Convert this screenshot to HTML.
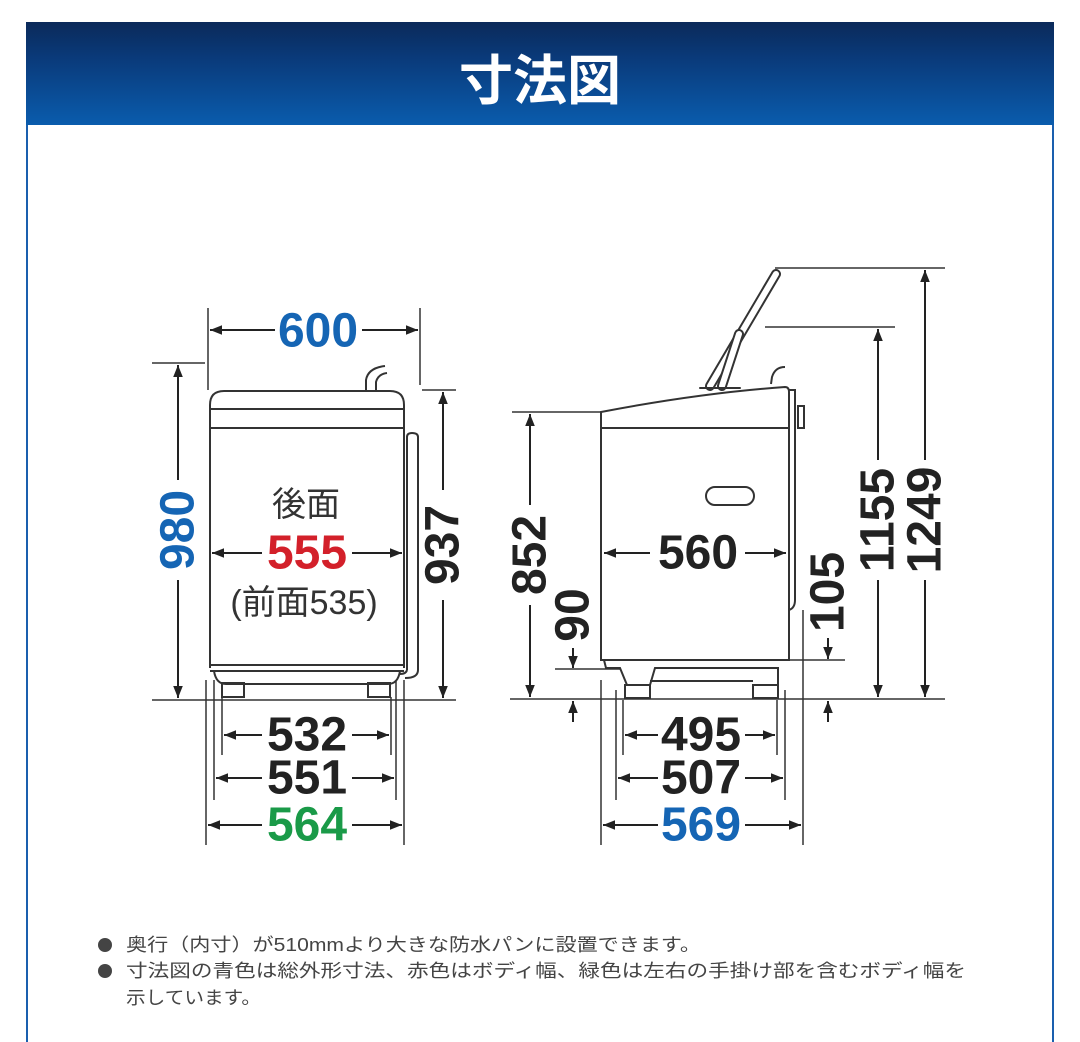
<!DOCTYPE html>
<html><head><meta charset="utf-8"><style>
html,body{margin:0;padding:0;background:#fff;width:1080px;height:1042px;overflow:hidden}
.n{font-family:"Liberation Sans",sans-serif;font-weight:bold;font-size:48px;text-anchor:middle;dominant-baseline:central}
.j{font-family:"Liberation Sans","Noto Sans CJK JP",sans-serif;font-size:34px;fill:#333;text-anchor:middle;dominant-baseline:central}
.t{font-family:"Liberation Sans","Noto Sans CJK JP",sans-serif;font-size:18px;fill:#444}
</style></head><body>
<svg width="1080" height="1042" viewBox="0 0 1080 1042" xmlns="http://www.w3.org/2000/svg">
<defs>
<linearGradient id="g" x1="0" y1="0" x2="0" y2="1"><stop offset="0" stop-color="#0b2a5a"/><stop offset="0.35" stop-color="#0a3a7a"/><stop offset="1" stop-color="#0a5cad"/></linearGradient>
<marker id="a" viewBox="0 0 10 10" refX="10" refY="5" markerWidth="6" markerHeight="6" orient="auto-start-reverse"><path d="M0,1 L10,5 L0,9z" fill="#222"/></marker>
</defs>
<rect x="26" y="22" width="1028" height="103" fill="url(#g)"/>
<line x1="27" y1="125" x2="27" y2="1042" stroke="#1a5fae" stroke-width="2"/>
<line x1="1053" y1="125" x2="1053" y2="1042" stroke="#1a5fae" stroke-width="2"/>
<text x="540" y="76" fill="#fff" font-family="'Noto Sans CJK JP',sans-serif" font-size="54" font-weight="bold" text-anchor="middle" dominant-baseline="central">寸法図</text>

<g fill="none" stroke="#333" stroke-width="2">
<path d="M210,668 L210,405 Q210,391 224,391 L390,391 Q404,391 404,405 L404,668"/>
<line x1="210" y1="409" x2="404" y2="409"/><line x1="210" y1="428" x2="404" y2="428"/>
<line x1="210" y1="665" x2="404" y2="665"/><line x1="210" y1="671" x2="404" y2="671"/>
<path d="M214,671 Q216,684 226,684 L388,684 Q398,684 400,671"/>
<rect x="222" y="683" width="22" height="14"/><rect x="368" y="683" width="22" height="14"/>
<path d="M366,390 L366,380 Q368,368 385,366 M376,390 L376,382 Q378,374 387,373"/>
<path d="M407,670 L407,437 Q407,433 412,433 Q418,433 418,437 L418,670 Q418,678 405,678 M407,670 Q406,674 400,674"/>
<path d="M601,660 L601,412 Q700,393 785,387 Q789,387 789,392 L789,660 Z"/>
<line x1="601" y1="428" x2="789" y2="428"/>
<path d="M789,390 L795,390 L795,600 Q795,608 789,610"/>
<rect x="798" y="406" width="6" height="22"/>
<rect x="706" y="487" width="48" height="18" rx="9"/>
<line x1="601" y1="660" x2="789" y2="660"/>
<path d="M604,660 L606,668 L620,668 L627,685 M650,685 L655,668 L778,668 L778,685"/>
<line x1="650" y1="681" x2="753" y2="681"/>
<rect x="625" y="685" width="25" height="13"/><rect x="753" y="685" width="25" height="13"/>
<path d="M771,384 L772,377 Q775,367 785,367"/>
</g>
<g fill="none" stroke-linecap="round">
<line x1="710" y1="386" x2="776" y2="274" stroke="#333" stroke-width="10"/>
<line x1="710" y1="386" x2="776" y2="274" stroke="#fff" stroke-width="6"/>
<line x1="722" y1="386" x2="739" y2="334" stroke="#333" stroke-width="10"/>
<line x1="722" y1="386" x2="739" y2="334" stroke="#fff" stroke-width="6"/>
<line x1="700" y1="388" x2="740" y2="388" stroke="#333" stroke-width="2"/>
</g>

<g stroke="#333" stroke-width="1.5" fill="none">
<line x1="208" y1="308" x2="208" y2="390"/><line x1="420" y1="308" x2="420" y2="385"/>
<line x1="152" y1="363" x2="205" y2="363"/><line x1="422" y1="390" x2="456" y2="390"/>
<line x1="152" y1="700" x2="456" y2="700"/>
<line x1="206" y1="680" x2="206" y2="845"/><line x1="214" y1="680" x2="214" y2="800"/><line x1="222" y1="697" x2="222" y2="755"/>
<line x1="391" y1="697" x2="391" y2="755"/><line x1="396" y1="680" x2="396" y2="800"/><line x1="404" y1="680" x2="404" y2="845"/>
<line x1="512" y1="412" x2="600" y2="412"/><line x1="555" y1="669" x2="620" y2="669"/>
<line x1="790" y1="660" x2="845" y2="660"/>
<line x1="765" y1="327" x2="895" y2="327"/><line x1="775" y1="268" x2="945" y2="268"/>
<line x1="510" y1="699" x2="945" y2="699"/>
<line x1="601" y1="680" x2="601" y2="845"/><line x1="616" y1="690" x2="616" y2="800"/><line x1="623" y1="700" x2="623" y2="755"/>
<line x1="777" y1="700" x2="777" y2="755"/><line x1="785" y1="690" x2="785" y2="800"/><line x1="803" y1="610" x2="803" y2="845"/>
</g>

<g stroke="#222" stroke-width="2" marker-start="url(#a)" marker-end="url(#a)">
<line x1="210" y1="330" x2="275" y2="330" marker-end="none"/><line x1="362" y1="330" x2="418" y2="330" marker-start="none"/>
<line x1="178" y1="365" x2="178" y2="480" marker-end="none"/><line x1="178" y1="580" x2="178" y2="698" marker-start="none"/>
<line x1="443" y1="392" x2="443" y2="490" marker-end="none"/><line x1="443" y1="600" x2="443" y2="698" marker-start="none"/>
<line x1="212" y1="553" x2="262" y2="553" marker-end="none"/><line x1="352" y1="553" x2="402" y2="553" marker-start="none"/>
<line x1="224" y1="735" x2="262" y2="735" marker-end="none"/><line x1="352" y1="735" x2="389" y2="735" marker-start="none"/>
<line x1="216" y1="778" x2="262" y2="778" marker-end="none"/><line x1="352" y1="778" x2="394" y2="778" marker-start="none"/>
<line x1="208" y1="825" x2="262" y2="825" marker-end="none"/><line x1="352" y1="825" x2="402" y2="825" marker-start="none"/>
<line x1="530" y1="414" x2="530" y2="505" marker-end="none"/><line x1="530" y1="605" x2="530" y2="697" marker-start="none"/>
<line x1="573" y1="648" x2="573" y2="668" marker-start="none"/><line x1="573" y1="722" x2="573" y2="701" marker-start="none"/>
<line x1="828" y1="638" x2="828" y2="659" marker-start="none"/><line x1="828" y1="722" x2="828" y2="701" marker-start="none"/>
<line x1="878" y1="329" x2="878" y2="460" marker-end="none"/><line x1="878" y1="580" x2="878" y2="697" marker-start="none"/>
<line x1="925" y1="270" x2="925" y2="460" marker-end="none"/><line x1="925" y1="580" x2="925" y2="697" marker-start="none"/>
<line x1="604" y1="553" x2="650" y2="553" marker-end="none"/><line x1="745" y1="553" x2="786" y2="553" marker-start="none"/>
<line x1="625" y1="735" x2="658" y2="735" marker-end="none"/><line x1="745" y1="735" x2="775" y2="735" marker-start="none"/>
<line x1="618" y1="778" x2="658" y2="778" marker-end="none"/><line x1="745" y1="778" x2="783" y2="778" marker-start="none"/>
<line x1="603" y1="825" x2="658" y2="825" marker-end="none"/><line x1="745" y1="825" x2="801" y2="825" marker-start="none"/>
</g>

<text class="n" x="318" y="331" fill="#1565b4">600</text>
<text class="n" x="178" y="530" fill="#1565b4" transform="rotate(-90 178 530)">980</text>
<text class="n" x="443" y="545" fill="#222" transform="rotate(-90 443 545)">937</text>
<text class="j" x="306" y="505">後面</text>
<text class="n" x="307" y="553" fill="#d3202a">555</text>
<text class="j" x="304" y="603">(前面535)</text>
<text class="n" x="307" y="735" fill="#222">532</text>
<text class="n" x="307" y="778" fill="#222">551</text>
<text class="n" x="307" y="825" fill="#1a9a48">564</text>
<text class="n" x="530" y="555" fill="#222" transform="rotate(-90 530 555)">852</text>
<text class="n" x="573" y="615" fill="#222" transform="rotate(-90 573 615)">90</text>
<text class="n" x="828" y="592" fill="#222" transform="rotate(-90 828 592)">105</text>
<text class="n" x="878" y="520" fill="#222" transform="rotate(-90 878 520)">1155</text>
<text class="n" x="925" y="520" fill="#222" transform="rotate(-90 925 520)">1249</text>
<text class="n" x="698" y="553" fill="#222">560</text>
<text class="n" x="701" y="735" fill="#222">495</text>
<text class="n" x="701" y="778" fill="#222">507</text>
<text class="n" x="701" y="825" fill="#1565b4">569</text>

<circle cx="105" cy="945" r="7" fill="#444"/>
<circle cx="105" cy="971" r="7" fill="#444"/>
<text class="t" x="126" y="951" textLength="575" lengthAdjust="spacingAndGlyphs">奥行（内寸）が510mmより大きな防水パンに設置できます。</text>
<text class="t" x="126" y="977" textLength="840" lengthAdjust="spacingAndGlyphs">寸法図の青色は総外形寸法、赤色はボディ幅、緑色は左右の手掛け部を含むボディ幅を</text>
<text class="t" x="126" y="1004" textLength="135" lengthAdjust="spacingAndGlyphs">示しています。</text>
</svg>
</body></html>
